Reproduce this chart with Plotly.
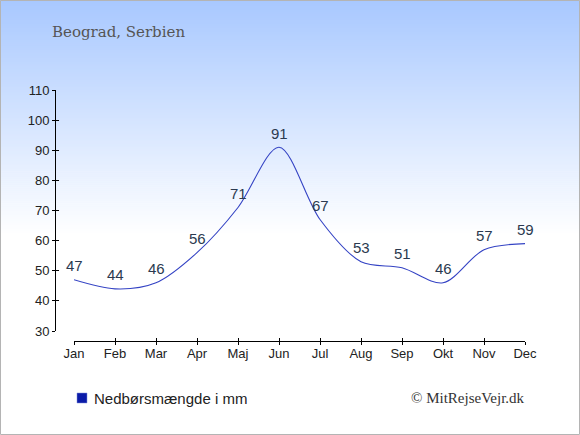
import plotly.graph_objects as go

months = ["Jan", "Feb", "Mar", "Apr", "Maj", "Jun", "Jul", "Aug", "Sep", "Okt", "Nov", "Dec"]
precip = [47, 44, 46, 56, 71, 91, 67, 53, 51, 46, 57, 59]
y_ticks = [30, 40, 50, 60, 70, 80, 90, 100, 110]
title_text = "Beograd, Serbien"
legend_text = "Nedbørsmængde i mm"
credit_text = "© MitRejseVejr.dk"

W, H = 580, 435
L, R, T, B = 55, 55, 90, 94
PW, PH = W - L - R, H - T - B

def px(x):
    return (x - L) / PW

def py(y):
    return (H - B - y) / PH

fig = go.Figure()

fig.add_trace(go.Scatter(
    x=list(range(len(months))), y=precip,
    mode="lines",
    line=dict(color="#3443c4", width=1.1, shape="spline", smoothing=0.9),
    showlegend=False, hoverinfo="skip",
))
# invisible traces to activate secondary tick axes
fig.add_trace(go.Scatter(x=[0], y=[30], xaxis="x2", yaxis="y2", mode="markers",
                         marker=dict(opacity=0), showlegend=False, hoverinfo="skip"))
fig.add_trace(go.Scatter(x=[0], y=[30], xaxis="x3", yaxis="y2", mode="markers",
                         marker=dict(opacity=0), showlegend=False, hoverinfo="skip"))

shapes = []
# gradient background
grad_end = 235
steps = 118
top = (168, 200, 255)
for i in range(steps):
    y0 = i * grad_end / steps
    y1 = (i + 1) * grad_end / steps + 0.6
    f = (i + 0.5) / steps
    c = tuple(round(top[k] + (255 - top[k]) * f) for k in range(3))
    shapes.append(dict(type="rect", xref="paper", yref="paper",
                       x0=px(0), x1=px(W), y0=py(y1), y1=py(y0),
                       fillcolor="rgb(%d,%d,%d)" % c, line=dict(width=0), layer="below"))
# border
shapes.append(dict(type="rect", xref="paper", yref="paper",
                   x0=px(0.5), x1=px(W - 0.5), y0=py(H - 0.5), y1=py(0.5),
                   line=dict(color="#b4b4b4", width=1), layer="above"))
# legend square
shapes.append(dict(type="rect", xref="paper", yref="paper",
                   x0=px(77), x1=px(87), y0=py(403), y1=py(393),
                   fillcolor="#0b1ba8", line=dict(color="#7f8fd8", width=0.5)))

xdom = [px(74), 1.0]
ydom = [py(331), 1.0]
common_x = dict(domain=xdom, range=[0, 11], tickmode="array",
                tickvals=list(range(12)), anchor="free", position=0,
                showgrid=False, zeroline=False, tickcolor="#000", ticklen=3, tickwidth=1)
common_y = dict(domain=ydom, range=[30, 110], tickmode="array", tickvals=y_ticks,
                anchor="free", position=0, showgrid=False, zeroline=False,
                tickcolor="#000", ticklen=3, tickwidth=1)

annotations = [
    dict(text=str(v), x=i, y=v, xref="x", yref="y", showarrow=False,
         xanchor="center", yanchor="middle", yshift=14,
         font=dict(family="Liberation Sans, Arial", size=15, color="#2b3a50"))
    for i, v in enumerate(precip)
]
annotations += [
    dict(text=title_text, xref="paper", yref="paper", x=px(50), y=py(32),
         xanchor="left", yanchor="middle", showarrow=False,
         font=dict(family="DejaVu Serif", size=15, color="#555")),
    dict(text=legend_text, xref="paper", yref="paper", x=px(92), y=py(398),
         xanchor="left", yanchor="middle", showarrow=False,
         font=dict(family="Liberation Sans, Arial", size=15, color="#222")),
    dict(text=credit_text, xref="paper", yref="paper", x=px(527), y=py(398),
         xanchor="right", yanchor="middle", showarrow=False,
         font=dict(family="Liberation Serif", size=15, color="#333")),
]

fig.update_layout(
    width=W, height=H,
    margin=dict(l=L, r=R, t=T, b=B, pad=0),
    paper_bgcolor="white", plot_bgcolor="rgba(0,0,0,0)",
    xaxis=dict(**common_x, ticktext=months, ticks="", showline=True,
               linecolor="#000", linewidth=1,
               tickfont=dict(family="Liberation Sans, Arial", size=13, color="#222")),
    yaxis=dict(**common_y, ticks="outside", showline=True, linecolor="#000", linewidth=1,
               tickfont=dict(family="Liberation Sans, Arial", size=13, color="#222")),
    xaxis2=dict(**common_x, overlaying="x", ticks="inside", showline=False,
                showticklabels=False),
    xaxis3=dict(**common_x, overlaying="x", ticks="outside", showline=False,
                showticklabels=False),
    yaxis2=dict(**common_y, overlaying="y", ticks="inside", showline=False,
                showticklabels=False),
    shapes=shapes,
    annotations=annotations,
)

fig.write_html("out.html", config={"displayModeBar": False},
               post_script="document.body.style.margin='0';document.body.style.padding='0';"
                           "document.body.style.overflow='hidden';")
